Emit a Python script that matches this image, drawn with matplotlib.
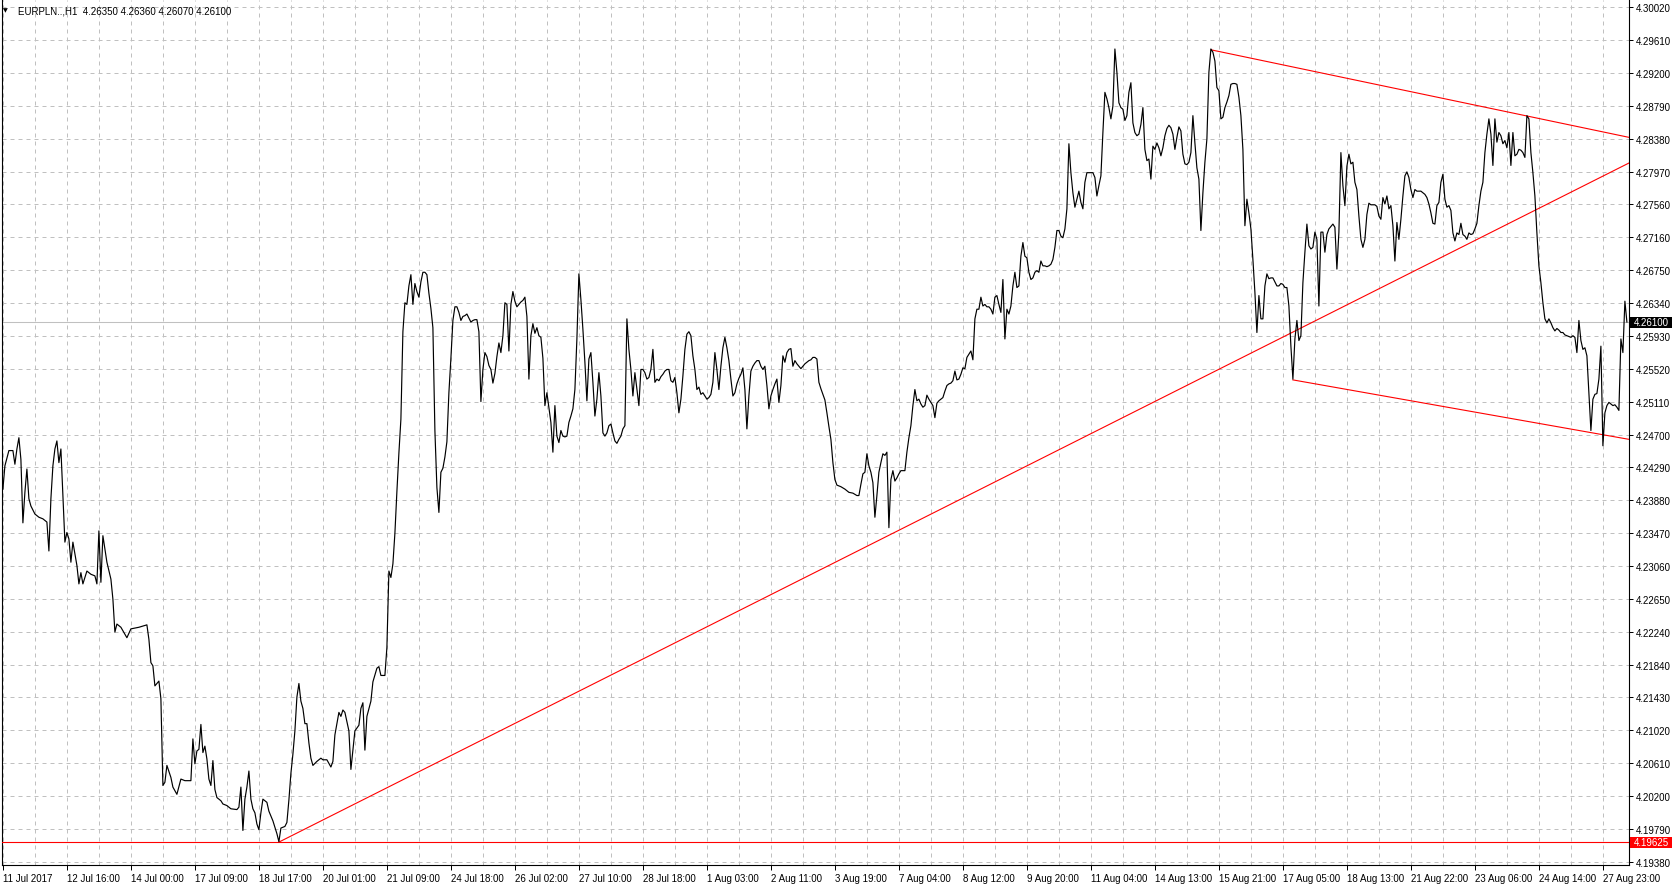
import numpy as np
import matplotlib
matplotlib.use("Agg")
import matplotlib.pyplot as plt
from matplotlib.patches import Rectangle
from matplotlib.transforms import blended_transform_factory

plt.rcParams['font.family'] = ['Liberation Sans', 'DejaVu Sans']

# header of the chart window
symbol_text = "EURPLN..,H1  4.26350 4.26360 4.26070 4.26100"

# H1 closes (bar 0 = first bar on screen)
bar_index = [
    0, 1, 3, 5, 6, 7, 8, 9, 10, 11,
    12, 13, 14, 16, 18, 20, 22, 23, 24, 25,
    26, 27, 28, 29, 30, 31, 32, 33, 34, 35,
    37, 38, 39, 40, 42, 44, 46, 47, 48, 49,
    50, 52, 54, 55, 56, 57, 59, 62, 64, 68,
    72, 73, 74, 75, 76, 78, 79, 80, 81, 82,
    84, 85, 87, 89, 91, 94, 95, 96, 97, 98,
    99, 100, 101, 102, 103, 104, 105, 106, 107, 109,
    110, 112, 114, 117, 118, 119, 120, 121, 122, 123,
    124, 125, 126, 127, 128, 129, 130, 132, 133, 135,
    136, 137, 138, 139, 141, 142, 143, 144, 145, 146,
    147, 148, 149, 150, 151, 152, 153, 154, 155, 157,
    159, 160, 162, 164, 165, 166, 168, 169, 170, 171,
    173, 174, 175, 176, 178, 179, 180, 181, 182, 184,
    185, 187, 188, 189, 191, 192, 193, 194, 195, 196,
] + list(range(197, 273)) + list(range(274, 418)) + [419, 421, 423, 425, 427] \
  + list(range(428, 543)) + list(range(544, 813))

close = [
    4.2402, 4.2431, 4.2450, 4.2450, 4.2433, 4.2452, 4.2466, 4.2439, 4.2360, 4.2398,
    4.2427, 4.2390, 4.2381, 4.2371, 4.2367, 4.2365, 4.2361, 4.2325, 4.2390, 4.2431,
    4.2452, 4.2462, 4.2435, 4.2452, 4.2394, 4.2336, 4.2348, 4.2340, 4.2311, 4.2336,
    4.2307, 4.2284, 4.2298, 4.2284, 4.2300, 4.2296, 4.2294, 4.2284, 4.2350, 4.2286,
    4.2344, 4.2311, 4.2290, 4.2265, 4.2224, 4.2234, 4.2230, 4.2217, 4.2228, 4.2230,
    4.2233, 4.2215, 4.2186, 4.2182, 4.2157, 4.2163, 4.2141, 4.2033, 4.2037, 4.2058,
    4.2043, 4.2031, 4.2022, 4.2041, 4.2039, 4.2039, 4.2091, 4.2060, 4.2076, 4.2078,
    4.2109, 4.2074, 4.2082, 4.2066, 4.2041, 4.2033, 4.2064, 4.2028, 4.2018, 4.2014,
    4.2010, 4.2008, 4.2004, 4.2003, 4.2006, 4.2031, 4.1977, 4.2016, 4.2031, 4.2051,
    4.2016, 4.2004, 4.1999, 4.1985, 4.1978, 4.1999, 4.2016, 4.2012, 4.2001, 4.1989,
    4.1981, 4.1973, 4.1963, 4.1980, 4.1982, 4.1987, 4.2015, 4.2048, 4.2072, 4.2101,
    4.2143, 4.2160, 4.2138, 4.2129, 4.2110, 4.2110, 4.2086, 4.2067, 4.2058, 4.2063,
    4.2067, 4.2065, 4.2065, 4.2056, 4.2063, 4.2096, 4.2124, 4.2119, 4.2127, 4.2124,
    4.2101, 4.2053, 4.2077, 4.2101, 4.2108, 4.2129, 4.2136, 4.2077, 4.2119, 4.2138,
    4.2162, 4.2179, 4.2181, 4.2170, 4.2170, 4.2205, 4.2300, 4.2292, 4.2309, 4.2347,
    4.2399, 4.2447, 4.2489, 4.2598, 4.2634, 4.2632, 4.2655, 4.2669, 4.2632, 4.2658,
    4.2648, 4.2641, 4.2660, 4.2672, 4.2672, 4.2669, 4.2646, 4.2627, 4.2603, 4.2475,
    4.2404, 4.2373, 4.2423, 4.2428, 4.2442, 4.2461, 4.2522, 4.2565, 4.2612, 4.2629,
    4.2629, 4.2622, 4.2612, 4.2617, 4.2618, 4.2620, 4.2615, 4.2610, 4.2612, 4.2613,
    4.2613, 4.2598, 4.2511, 4.2551, 4.2572, 4.2567, 4.2556, 4.2551, 4.2534, 4.2546,
    4.2567, 4.2584, 4.2572, 4.2593, 4.2634, 4.2632, 4.2574, 4.2632, 4.2648, 4.2636,
    4.2629, 4.2632, 4.2635, 4.2637, 4.2641, 4.2617, 4.2539, 4.2593, 4.2608, 4.2596,
    4.2603, 4.2593, 4.2591, 4.2565, 4.2506, 4.2522, 4.2485, 4.2448, 4.2506, 4.2468,
    4.2460, 4.2475, 4.2468, 4.2467, 4.2468, 4.2485, 4.2493, 4.2502, 4.2526, 4.2589,
    4.2670, 4.2638, 4.2601, 4.2560, 4.2512, 4.2564, 4.2572, 4.2535, 4.2493, 4.2514,
    4.2547, 4.2518, 4.2472, 4.2468, 4.2472, 4.2481, 4.2483, 4.2472, 4.2462, 4.2459,
    4.2464, 4.2468, 4.2477, 4.2481, 4.2614, 4.2576, 4.2551, 4.2518, 4.2547, 4.2526,
    4.2506, 4.2551, 4.2551, 4.2547, 4.2539, 4.2541, 4.2551, 4.2576, 4.2535, 4.2539,
    4.2537, 4.2542, 4.2545, 4.2549, 4.2551, 4.2551, 4.2537, 4.2535, 4.2541, 4.2522,
    4.2497, 4.2514, 4.2543, 4.2576, 4.2595, 4.2598, 4.2593, 4.2568, 4.2551, 4.2526,
    4.2529, 4.2520, 4.2522, 4.2518, 4.2514, 4.2516, 4.2520, 4.2535, 4.2572, 4.2551,
    4.2526, 4.2555, 4.2578, 4.2591, 4.2578, 4.2562, 4.2539, 4.2518, 4.2522, 4.2533,
    4.2540, 4.2545, 4.2553, 4.2526, 4.2477, 4.2518, 4.2549, 4.2555, 4.2559, 4.2562,
    4.2562, 4.2555, 4.2551, 4.2555, 4.2531, 4.2502, 4.2518, 4.2526, 4.2533, 4.2539,
    4.2510, 4.2531, 4.2568, 4.2560, 4.2572, 4.2576, 4.2577, 4.2555, 4.2562, 4.2558,
    4.2555, 4.2552, 4.2555, 4.2558, 4.2560, 4.2562, 4.2563, 4.2566, 4.2566, 4.2564,
    4.2535, 4.2527, 4.2520, 4.2513, 4.2497, 4.2480, 4.2464, 4.2435, 4.2414, 4.2407,
    4.2405, 4.2402, 4.2398, 4.2397, 4.2394, 4.2394, 4.2408, 4.2421, 4.2423, 4.2446,
    4.2431, 4.2423, 4.2410, 4.2367, 4.2394, 4.2423, 4.2435, 4.2446, 4.2444, 4.2448,
    4.2354, 4.2414, 4.2425, 4.2412, 4.2416, 4.2421, 4.2425, 4.2425, 4.2425, 4.2448,
    4.2466, 4.2481, 4.2506, 4.2526, 4.2512, 4.2514, 4.2508, 4.2504, 4.2506, 4.2519,
    4.2514, 4.2510, 4.2506, 4.2491, 4.2509, 4.2512, 4.2514, 4.2516, 4.2524, 4.2531,
    4.2533, 4.2534, 4.2537, 4.2549, 4.2538, 4.2539, 4.2545, 4.2553, 4.2552, 4.2566,
    4.2570, 4.2574, 4.2563, 4.2614, 4.2626, 4.2626, 4.2641, 4.2630, 4.2632, 4.2629,
    4.2629, 4.2626, 4.2620, 4.2641, 4.2643, 4.2632, 4.2622, 4.2663, 4.2589, 4.2626,
    4.2620, 4.2630, 4.2655, 4.2672, 4.2653, 4.2655, 4.2692, 4.2709, 4.2692, 4.2690,
    4.2672, 4.2663, 4.2665, 4.2672, 4.2674, 4.2672, 4.2686, 4.2680, 4.2680, 4.2679,
    4.2680, 4.2682, 4.2688, 4.2703, 4.2724, 4.2724, 4.2717, 4.2715, 4.2726, 4.2751,
    4.2832, 4.2796, 4.2771, 4.2753, 4.2763, 4.2773, 4.2759, 4.2751, 4.2784, 4.2796,
    4.2796, 4.2796, 4.2790, 4.2767, 4.2780, 4.2792, 4.2846, 4.2896, 4.2888, 4.2877,
    4.2863, 4.2879, 4.2950, 4.2921, 4.2883, 4.2877, 4.2875, 4.2861, 4.2867, 4.2896,
    4.2908, 4.2858, 4.2846, 4.2842, 4.2844, 4.2856, 4.2877, 4.2825, 4.2811, 4.2813,
    4.2788, 4.2829, 4.2825, 4.2833, 4.2827, 4.2817, 4.2827, 4.2842, 4.2851, 4.2855,
    4.2852, 4.2844, 4.2825, 4.2840, 4.2853, 4.2848, 4.2819, 4.2807, 4.2806, 4.2809,
    4.2821, 4.2867, 4.2833, 4.2802, 4.2788, 4.2724, 4.2771, 4.2809, 4.2838, 4.2921,
    4.2950, 4.2946, 4.2935, 4.2902, 4.2898, 4.2863, 4.2865, 4.2877, 4.2884, 4.2892,
    4.2906, 4.2907, 4.2907, 4.2906, 4.2890, 4.2867, 4.2825, 4.2730, 4.2763, 4.2746,
    4.2726, 4.2688, 4.2647, 4.2597, 4.2643, 4.2614, 4.2614, 4.2655, 4.2670, 4.2664,
    4.2665, 4.2665, 4.2660, 4.2655, 4.2655, 4.2658, 4.2657, 4.2653, 4.2653, 4.2630,
    4.2580, 4.2539, 4.2589, 4.2612, 4.2587, 4.2593, 4.2659, 4.2697, 4.2732, 4.2705,
    4.2701, 4.2703, 4.2722, 4.2713, 4.2630, 4.2722, 4.2722, 4.2697, 4.2719, 4.2726,
    4.2729, 4.2732, 4.2728, 4.2676, 4.2722, 4.2821, 4.2780, 4.2755, 4.2804, 4.2819,
    4.2807, 4.2809, 4.2784, 4.2775, 4.2742, 4.2713, 4.2703, 4.2713, 4.2744, 4.2758,
    4.2756, 4.2756, 4.2756, 4.2754, 4.2742, 4.2738, 4.2765, 4.2757, 4.2767, 4.2751,
    4.2755, 4.2730, 4.2686, 4.2734, 4.2713, 4.2738, 4.2767, 4.2792, 4.2797, 4.2790,
    4.2775, 4.2765, 4.2775, 4.2773, 4.2773, 4.2773, 4.2771, 4.2769, 4.2765, 4.2757,
    4.2746, 4.2733, 4.2732, 4.2755, 4.2759, 4.2784, 4.2794, 4.2763, 4.2753, 4.2755,
    4.2749, 4.2721, 4.2711, 4.2721, 4.2719, 4.2733, 4.2719, 4.2717, 4.2713, 4.2721,
    4.2719, 4.2720, 4.2726, 4.2733, 4.2755, 4.2773, 4.2784, 4.2821, 4.2844, 4.2863,
    4.2844, 4.2805, 4.2863, 4.2834, 4.2846, 4.2842, 4.2832, 4.2836, 4.2827, 4.2846,
    4.2805, 4.2846, 4.2817, 4.2819, 4.2825, 4.2824, 4.2821, 4.2815, 4.2867, 4.2863,
    4.2821, 4.2796, 4.2767, 4.2721, 4.2680, 4.2659, 4.2634, 4.2614, 4.2609, 4.2614,
    4.2609, 4.2603, 4.2599, 4.2602, 4.2600, 4.2597, 4.2597, 4.2594, 4.2593, 4.2592,
    4.2591, 4.2593, 4.2591, 4.2572, 4.2612, 4.2587, 4.2576, 4.2578, 4.2568, 4.2522,
    4.2475, 4.2514, 4.2520, 4.2521, 4.2539, 4.2580, 4.2456, 4.2497, 4.2506, 4.2510,
    4.2508, 4.2506, 4.2507, 4.2504, 4.2500, 4.2589, 4.2572, 4.2636, 4.2610,
]

time_labels = [
    "11 Jul 2017", "12 Jul 16:00", "14 Jul 00:00", "17 Jul 09:00", "18 Jul 17:00",
    "20 Jul 01:00", "21 Jul 09:00", "24 Jul 18:00", "26 Jul 02:00", "27 Jul 10:00",
    "28 Jul 18:00", "1 Aug 03:00", "2 Aug 11:00", "3 Aug 19:00", "7 Aug 04:00",
    "8 Aug 12:00", "9 Aug 20:00", "11 Aug 04:00", "14 Aug 13:00", "15 Aug 21:00",
    "17 Aug 05:00", "18 Aug 13:00", "21 Aug 22:00", "23 Aug 06:00", "24 Aug 14:00",
    "27 Aug 23:00",
]
bars_per_label = 32

price_labels = [
    "4.30020", "4.29610", "4.29200", "4.28790", "4.28380", "4.27970", "4.27560",
    "4.27160", "4.26750", "4.26340", "4.25930", "4.25520", "4.25110", "4.24700",
    "4.24290", "4.23880", "4.23470", "4.23060", "4.22650", "4.22240", "4.21840",
    "4.21430", "4.21020", "4.20610", "4.20200", "4.19790", "4.19380",
]

bid_price = 4.26100
support_price = 4.19625

# drawn objects: (bar, price) anchors
trend_bars, trend_prices = [138, 813], [4.19625, 4.2808]
upper_bars, upper_prices = [604, 813], [4.2949, 4.2840]
lower_bars, lower_prices = [645, 813], [4.2538, 4.2464]

W, H = 1672, 887
ymin, ymax = 4.1934, 4.3011
GRID = '#c0c0c0'
RED = '#ff0000'
FS = 7

fig = plt.figure(figsize=(W / 100, H / 100), dpi=100)
ax = fig.add_axes([2 / W, 21 / H, 1627 / W, 865 / H])

# grid / ticks (limits are set afterwards, set_xticks would widen them)
ax.set_xticks(np.arange(len(time_labels)) * bars_per_label)
ax.set_xticklabels(time_labels, ha='left', fontsize=FS)
ax.set_xticks(np.arange(1, 2 * len(time_labels) + 1, 2) * (bars_per_label // 2), minor=True)
ax.set_yticks(np.linspace(float(price_labels[0]), float(price_labels[-1]), len(price_labels)))
ax.set_yticklabels(price_labels, fontsize=FS)
ax.set_xlim(-0.45, 813.05)
ax.set_ylim(ymin, ymax)
ax.grid(True, which='both', color=GRID, linestyle=(0, (4, 4)), linewidth=0.72)
ax.set_axisbelow(True)

ax.yaxis.tick_right()
ax.tick_params(axis='y', direction='out', length=3, width=0.72, pad=2)
ax.tick_params(axis='x', which='major', direction='out', length=3.5, width=0.72, pad=2)
ax.tick_params(axis='x', which='minor', length=0)
for side in ['left', 'right', 'bottom']:
    ax.spines[side].set_linewidth(0.8)
    ax.spines[side].set_color('black')
ax.spines['top'].set_visible(False)

# lines
ax.axhline(bid_price, color=GRID, linewidth=0.75, zorder=2)
ax.axhline(support_price, color=RED, linewidth=0.8, zorder=3)
ax.plot(trend_bars, trend_prices, color=RED, linewidth=0.8, zorder=3)
ax.plot(upper_bars, upper_prices, color=RED, linewidth=0.8, zorder=3)
ax.plot(lower_bars, lower_prices, color=RED, linewidth=0.8, zorder=3)
ax.plot(bar_index, close, color='black', linewidth=0.85, zorder=4)

# price tags on the right scale
ppu = ax.bbox.height / (ymax - ymin)
tag_h = 11 / ppu
trans = blended_transform_factory(fig.transFigure, ax.transData)
for price, face in [(bid_price, 'black'), (support_price, RED)]:
    fig.add_artist(Rectangle((1630 / W, price - tag_h / 2), 42 / W, tag_h,
                             transform=trans, facecolor=face, edgecolor='none', zorder=6))
    fig.text(1634 / W, price, f"{price:.5f}", transform=trans, color='white',
             fontsize=FS, va='center', ha='left', zorder=7)

# header
fig.text(3 / W, 1 - 11 / H, "\u25bc", fontsize=4.5, va='center', ha='left',
         family=['DejaVu Sans'])
fig.text(18 / W, 1 - 11 / H, symbol_text, fontsize=FS, va='center', ha='left')

fig.savefig('out.png', dpi=100, facecolor='white')
